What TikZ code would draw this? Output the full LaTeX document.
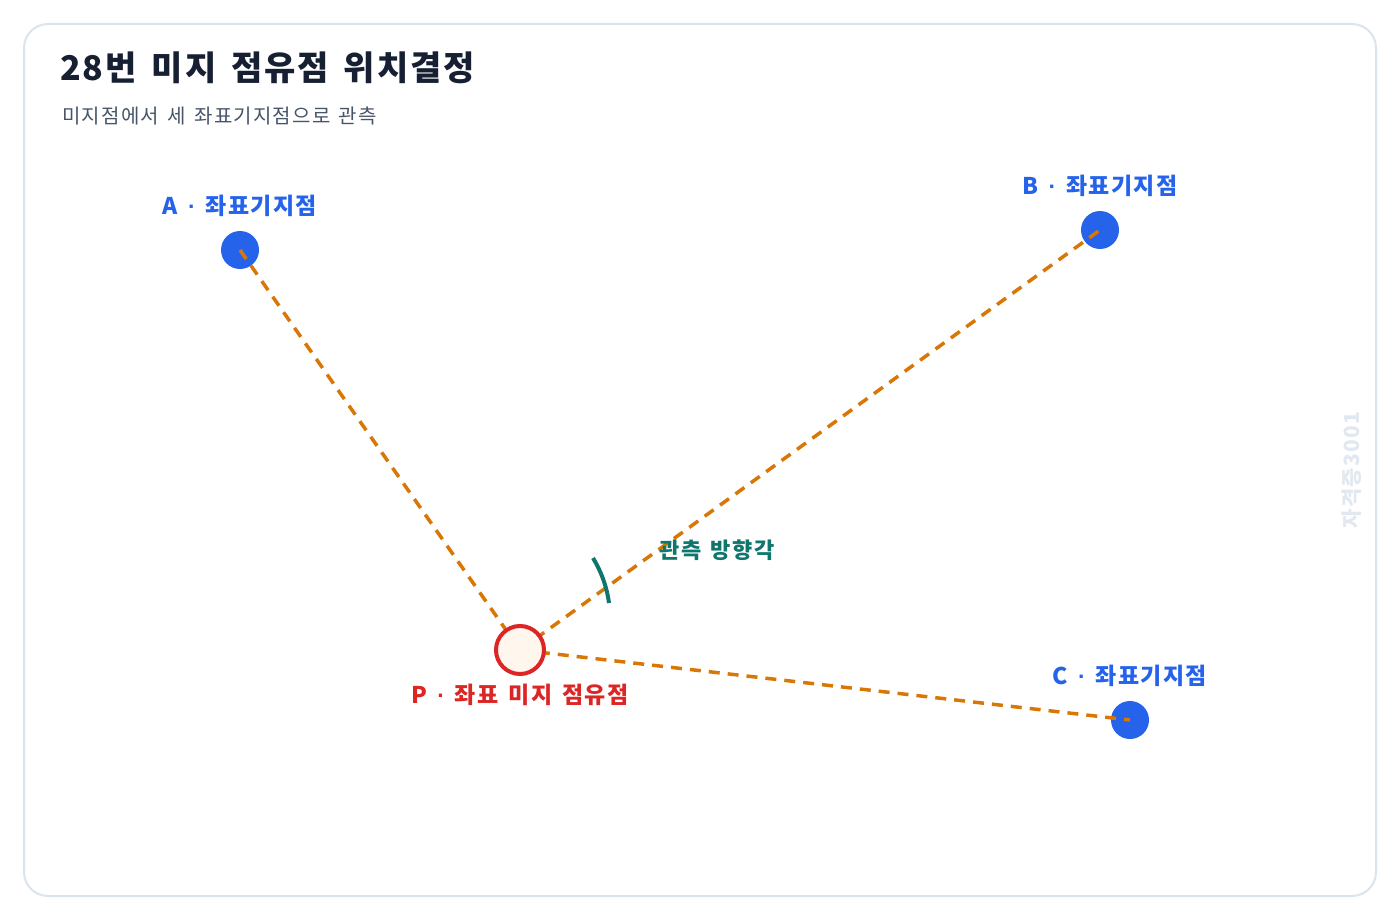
\documentclass[tikz,border=0pt]{standalone}
\usepackage{fontspec}
\setmainfont{Noto Sans CJK KR}[WordSpace=1.5, LetterSpace=6]
\newfontfamily\dotfont{Liberation Sans}[WordSpace=1.5]
\newcommand{\mdot}{{\dotfont\bfseries ·}}
\definecolor{frame}{HTML}{DBE3EC}
\definecolor{titlec}{HTML}{172033}
\definecolor{subc}{HTML}{475569}
\definecolor{bluec}{HTML}{2563EB}
\definecolor{redc}{HTML}{DC2626}
\definecolor{pfill}{HTML}{FFF7ED}
\definecolor{orangec}{HTML}{D97706}
\definecolor{tealc}{HTML}{0F766E}
\definecolor{wmc}{HTML}{E2E8F0}
\tikzset{
  known/.style={circle, fill=bluec, minimum size=38pt, inner sep=0pt},
  unknown/.style={circle, draw=redc, line width=4pt, fill=pfill, minimum size=48pt, inner sep=0pt},
  sight/.style={draw=orangec, line width=3.5pt, dash pattern=on 11pt off 8pt},
  klabel/.style={text=bluec, font=\fontsize{23}{27}\selectfont\bfseries},
  plabel/.style={text=redc, font=\fontsize{23}{27}\selectfont\bfseries},
  anglabel/.style={text=tealc, font=\fontsize{22}{26}\selectfont\bfseries},
}
\begin{document}
\begin{tikzpicture}[x=1pt,y=-1pt]
\useasboundingbox (0,0) rectangle (1400,920);
\draw[frame, line width=2pt, rounded corners=24pt] (24,24) rectangle (1376,896);
\node[anchor=west, text=titlec, font=\fontsize{34}{40}\selectfont\bfseries, inner sep=0pt] (title) at (60,68) {28번 미지 점유점 위치결정};
\node[anchor=west, text=subc, font=\fontsize{20}{24}\selectfont, inner sep=0pt] (sub) at (62,116) {미지점에서 세 좌표기지점으로 관측};
\node[rotate=90, text=wmc, font=\fontsize{21}{25}\selectfont\bfseries, inner sep=0pt] (wm) at (1352,470) {자격증3001};

\node[known] (A) at (240,250) {};
\node[known] (B) at (1100,230) {};
\node[known] (C) at (1130,720) {};
\coordinate (Pc) at (520,650);

\draw[sight] (A.center) -- (Pc);
\draw[sight] (Pc) -- (B.center);
\draw[sight] (Pc) -- (C.center);

\node[unknown] (P) at (Pc) {};

\coordinate (arcS) at (593,558);
\coordinate (arcE) at (609,603);
\draw[tealc, line width=4pt] (arcS) .. controls (602,573) and (607,588) .. (arcE);

\node[klabel] (Al) at (240,206) {A \mdot{} 좌표기지점};
\node[klabel] (Bl) at (1100,186) {B \mdot{} 좌표기지점};
\node[klabel] (Cl) at (1130,676) {C \mdot{} 좌표기지점};
\node[plabel] (Pl) at (520,695) {P \mdot{} 좌표 미지 점유점};
\node[anglabel] (ang) at (717,550) {관측 방향각};
\end{tikzpicture}
\end{document}
